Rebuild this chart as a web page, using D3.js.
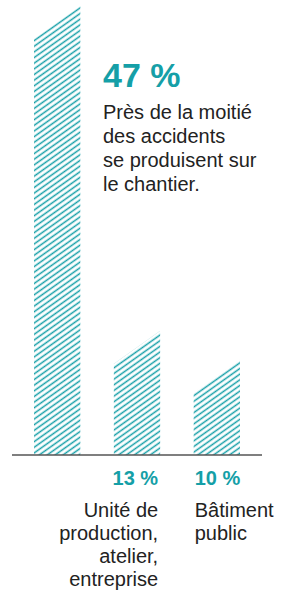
<!DOCTYPE html>
<html>
<head>
<meta charset="utf-8">
<script src="https://cdn.jsdelivr.net/npm/d3@7"></script>
<style>
  html, body { margin: 0; padding: 0; background: #fff; }
  svg { display: block; }
  text { font-family: "Liberation Sans", Arial, Helvetica, sans-serif; }
</style>
</head>
<body>
<svg id="chart" width="291" height="591"></svg>
<script>
// ---- data ----
const categories = ["Chantier", "Unité de production, atelier, entreprise", "Bâtiment public"];
const values = [47, 13, 10];
const valueLabels = ["47 %", "13 %", "10 %"];
const headlineLines = ["Près de la moitié", "des accidents", "se produisent sur", "le chantier."];
const categoryLines = [
  [],
  ["Unité de", "production,", "atelier,", "entreprise"],
  ["Bâtiment", "public"]
];

// ---- setup ----
const teal = "#159fa7";
const ink = "#222222";
const baseY = 455;
const slant = 33;

const svg = d3.select("#chart");

const x = d3.scaleBand().domain(categories).range([34, 240]).paddingInner(0.42).paddingOuter(0);
const y = d3.scaleLinear().domain([0, 47]).range([baseY, 6]);

const angle = Math.atan2(slant, x.bandwidth()) * 180 / Math.PI;
const defs = svg.append("defs");
const pat = defs.append("pattern")
  .attr("id", "hatch")
  .attr("patternUnits", "userSpaceOnUse")
  .attr("width", 20)
  .attr("height", 4.6)
  .attr("patternTransform", `rotate(${-angle})`);
pat.append("line")
  .attr("x1", -2).attr("x2", 22)
  .attr("y1", 2.3).attr("y2", 2.3)
  .attr("stroke", teal).attr("stroke-width", 1.5);

// bars (parallelograms with slanted top)
svg.append("g").selectAll("path")
  .data(categories.map((c, i) => ({ c, v: values[i] })))
  .join("path")
  .attr("d", d => {
    const x0 = x(d.c), x1 = x0 + x.bandwidth();
    const yr = y(d.v), yl = yr + slant;
    return `M${x0},${baseY}L${x0},${yl}L${x1},${yr}L${x1},${baseY}Z`;
  })
  .attr("fill", "url(#hatch)");

// baseline
svg.append("line")
  .attr("x1", 12).attr("x2", 262)
  .attr("y1", baseY).attr("y2", baseY)
  .attr("stroke", "#555").attr("stroke-width", 1.5);

// headline for first bar
const hx = 103;
svg.append("text")
  .attr("x", hx).attr("y", 87)
  .attr("fill", teal)
  .attr("font-size", 34).attr("font-weight", "bold")
  .text(valueLabels[0]);
svg.append("g").selectAll("text")
  .data(headlineLines)
  .join("text")
  .attr("x", hx).attr("y", (d, i) => 119 + i * 24)
  .attr("fill", ink)
  .attr("font-size", 20)
  .text(d => d);

// labels under bars 2 and 3
[1, 2].forEach(i => {
  const c = categories[i];
  const rightAlign = i === 1;
  const tx = rightAlign ? x(c) + x.bandwidth() - 2 : x(c) + 1;
  const anchor = rightAlign ? "end" : "start";
  svg.append("text")
    .attr("x", tx).attr("y", 485)
    .attr("text-anchor", anchor)
    .attr("fill", teal)
    .attr("font-size", 20).attr("font-weight", "bold")
    .text(valueLabels[i]);
  svg.append("g").selectAll("text")
    .data(categoryLines[i])
    .join("text")
    .attr("x", tx).attr("y", (d, j) => 517 + j * 23)
    .attr("text-anchor", anchor)
    .attr("fill", ink)
    .attr("font-size", 20)
    .text(d => d);
});
</script>
</body>
</html>
